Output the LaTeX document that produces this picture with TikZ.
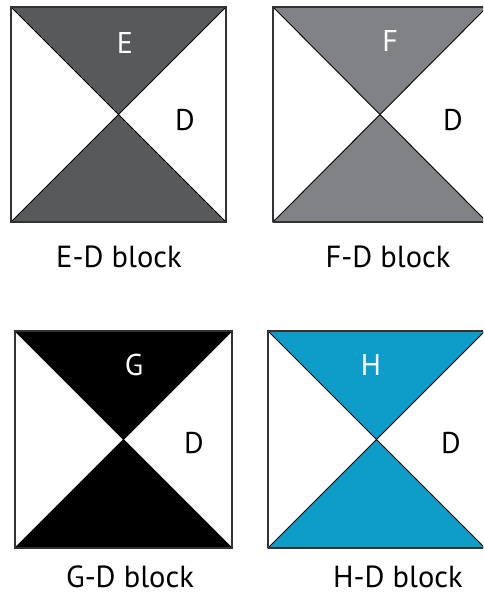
\documentclass[tikz,border=0pt]{standalone}
\usepackage{fontspec}
\setmainfont{PT Sans}
\definecolor{cE}{HTML}{58595B}
\definecolor{cF}{HTML}{808285}
\definecolor{cG}{HTML}{000000}
\definecolor{cH}{HTML}{0E9CC8}
\begin{document}
\begin{tikzpicture}[x=1pt,y=-1pt,
  tri/.style={draw=black,line width=0.9pt,line join=miter},
  frame/.style={draw=black!80,line width=1.2pt},
  inlbl/.style={font=\fontsize{30}{30}\selectfont,inner sep=0pt},
  caption/.style={font=\fontsize{30.5}{30.5}\selectfont,anchor=base,inner sep=0pt,text depth=0pt}]
\useasboundingbox (0,0) rectangle (483,593);
\begin{scope}
\clip (0,0) rectangle (483,593);
% block 1
\fill[cE,tri] (11,7) -- (226,7) -- (118.5,114.5) -- cycle;
\fill[cE,tri] (11,222) -- (226,222) -- (118.5,114.5) -- cycle;
\draw[frame] (11,7) rectangle (226,222);
% block 2
\fill[cF,tri] (273,7) -- (487,7) -- (380,114.5) -- cycle;
\fill[cF,tri] (273,222) -- (487,222) -- (380,114.5) -- cycle;
\draw[frame] (273,222) -- (273,7) -- (487,7);
\draw[frame] (273,222) -- (487,222);
% block 3
\fill[cG,tri] (15,331) -- (232,331) -- (123.5,439.5) -- cycle;
\fill[cG,tri] (15,548) -- (232,548) -- (123.5,439.5) -- cycle;
\draw[frame] (15,331) rectangle (232,548);
% block 4
\fill[cH,tri] (268,331) -- (485,331) -- (376.5,439.5) -- cycle;
\fill[cH,tri] (268,548) -- (485,548) -- (376.5,439.5) -- cycle;
\draw[frame] (268,548) -- (268,331) -- (485,331);
\draw[frame] (268,548) -- (485,548);
\end{scope}
\node[inlbl,text=white] (e) at (125,43) {E};
\node[inlbl] (d1) at (185,120) {D};
\node[inlbl,text=white] (f) at (390,41) {F};
\node[inlbl] (d2) at (453,120) {D};
\node[inlbl,text=white] (g) at (134,365) {G};
\node[inlbl] (d3) at (194,443) {D};
\node[inlbl,text=white] (h) at (371,365) {H};
\node[inlbl] (d4) at (451,443) {D};
\node[caption] (c1) at (119,267) {E-D block};
\node[caption] (c2) at (388,267) {F-D block};
\node[caption] (c3) at (130,587) {G-D block};
\node[caption] (c4) at (398,587) {H-D block};
\end{tikzpicture}
\end{document}
